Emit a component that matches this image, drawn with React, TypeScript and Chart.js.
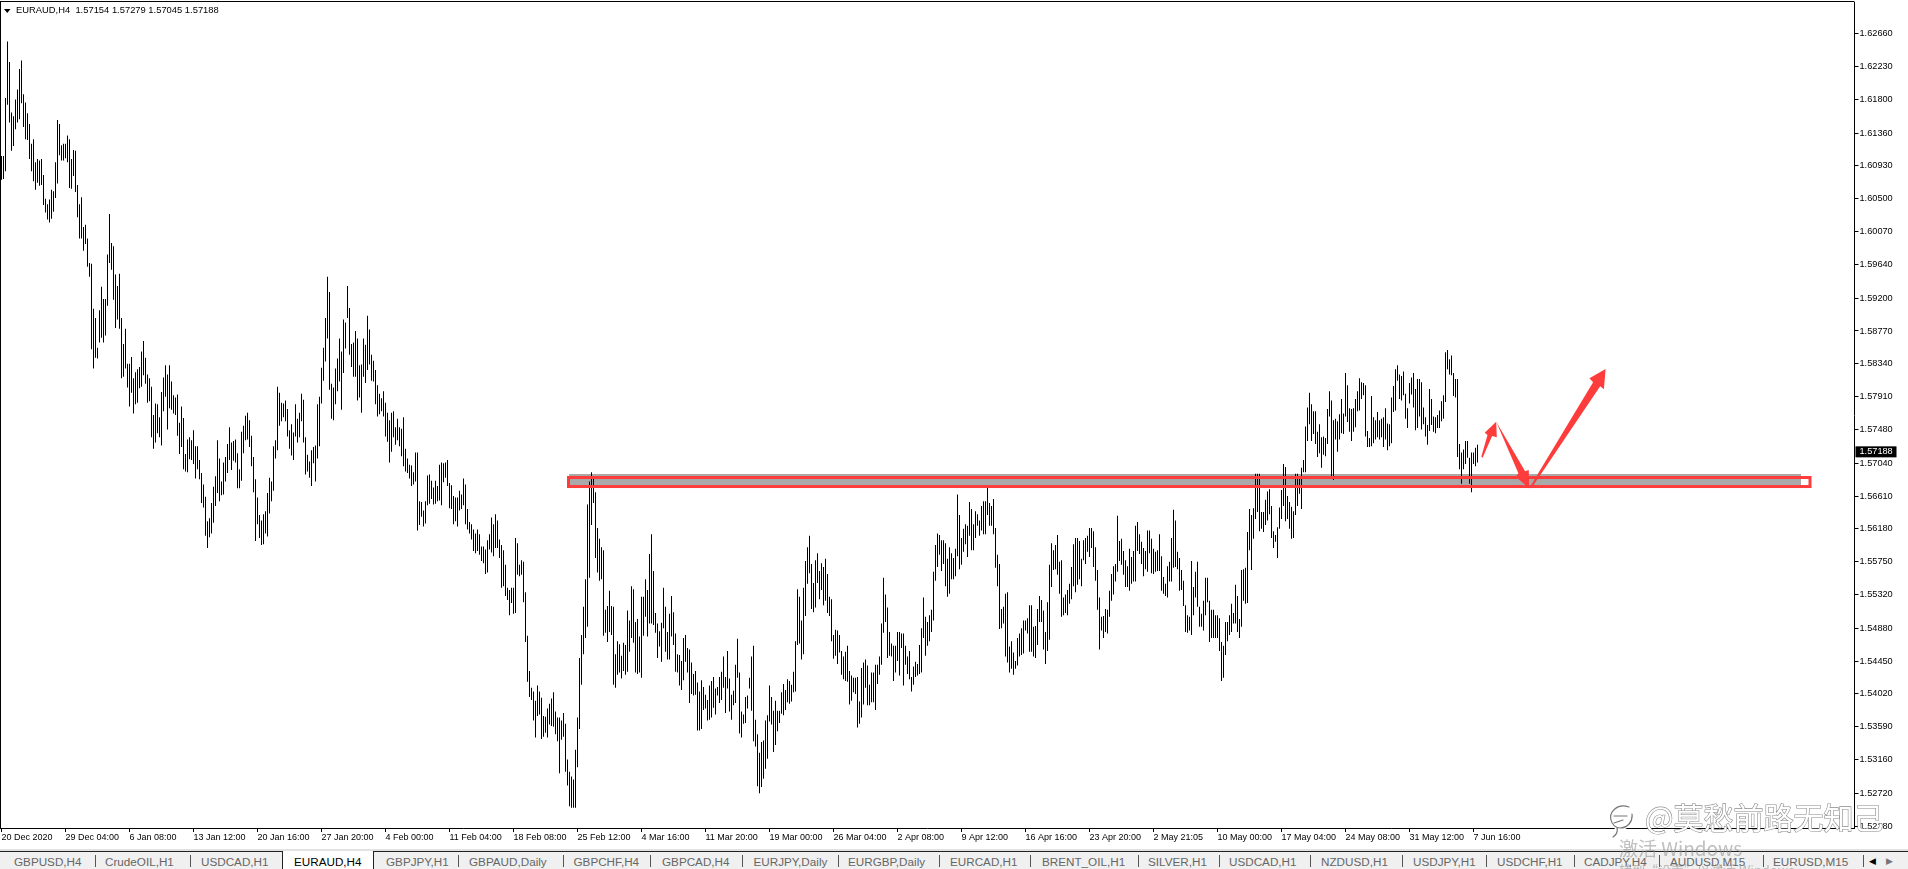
import React, { useEffect, useRef } from "react";
import { Chart, registerables } from "chart.js";

Chart.register(...registerables);

const FONT = '"Liberation Sans", Arial, sans-serif';

// Bar highs / lows of EURAUD H4
const highsA = [
1.6106,1.6106,1.6182,1.6256,1.6229,1.6163,1.6158,1.6180,1.6193,1.6220,
1.6231,1.6187,1.6176,1.6162,1.6148,1.6122,1.6128,1.6098,1.6102,1.6100,
1.6102,1.6081,1.6050,1.6043,1.6049,1.6062,1.6060,1.6098,1.6153,1.6148,
1.6120,1.6122,1.6122,1.6133,1.6128,1.6102,1.6114,1.6113,1.6068,1.6043,
1.6052,1.6013,1.6016,1.5998,1.5966,1.5965,1.5906,1.5894,1.5855,1.5904,
1.5935,1.5919,1.5919,1.5977,1.6030,1.5992,1.5988,1.5951,1.5936,1.5952,
1.5894,1.5860,1.5880,1.5834,1.5834,1.5843,1.5815,1.5823,1.5827,1.5830,
1.5850,1.5864,1.5842,1.5820,1.5815,1.5804,1.5767,1.5782,1.5781,1.5764,
1.5797,1.5816,1.5832,1.5820,1.5832,1.5811,1.5793,1.5790,1.5794,1.5757,
1.5778,1.5763,1.5716,1.5735,1.5738,1.5734,1.5747,1.5726,1.5726,1.5708,
1.5691,1.5676,1.5660,1.5628,1.5632,1.5652,1.5673,1.5687,1.5734,1.5710,
1.5680,1.5705,1.5712,1.5729,1.5751,1.5731,1.5733,1.5735,1.5717,1.5696];
const lowsA = [
1.6075,1.6076,1.6086,1.6173,1.6150,1.6113,1.6119,1.6141,1.6150,1.6154,
1.6175,1.6144,1.6128,1.6127,1.6102,1.6086,1.6073,1.6062,1.6071,1.6067,
1.6068,1.6042,1.6032,1.6023,1.6019,1.6024,1.6033,1.6051,1.6070,1.6107,
1.6100,1.6100,1.6103,1.6098,1.6064,1.6063,1.6080,1.6059,1.6026,1.5998,
1.5998,1.5982,1.5991,1.5961,1.5948,1.5853,1.5828,1.5842,1.5841,1.5862,
1.5868,1.5862,1.5871,1.5910,1.5966,1.5957,1.5918,1.5881,1.5892,1.5880,
1.5815,1.5817,1.5828,1.5803,1.5778,1.5796,1.5769,1.5781,1.5783,1.5802,
1.5804,1.5819,1.5808,1.5783,1.5785,1.5738,1.5723,1.5731,1.5743,1.5738,
1.5727,1.5772,1.5791,1.5748,1.5776,1.5774,1.5769,1.5767,1.5740,1.5716,
1.5725,1.5696,1.5693,1.5692,1.5709,1.5708,1.5703,1.5684,1.5696,1.5683,
1.5652,1.5646,1.5609,1.5593,1.5607,1.5612,1.5626,1.5648,1.5665,1.5654,
1.5662,1.5663,1.5680,1.5691,1.5708,1.5695,1.5707,1.5705,1.5671,1.5671];

const highsB = [
1.5745,1.5753,1.5766,1.5770,1.5760,1.5740,1.5712,1.5683,1.5659,1.5636,
1.5629,1.5637,1.5641,1.5665,1.5685,1.5680,1.5726,1.5734,1.5804,1.5796,
1.5783,1.5782,1.5786,1.5775,1.5747,1.5755,1.5744,1.5781,1.5762,1.5770,
1.5795,1.5787,1.5738,1.5715,1.5706,1.5721,1.5725,1.5727,1.5781,1.5791,
1.5829,1.5855,1.5894,1.5948,1.5928,1.5808,1.5803,1.5828,1.5841,1.5867,
1.5850,1.5892,1.5888,1.5936,1.5907,1.5860,1.5862,1.5877,1.5867,1.5832,
1.5833,1.5867,1.5859,1.5897,1.5879,1.5846,1.5838,1.5826,1.5806,1.5795,
1.5789,1.5798,1.5783,1.5770,1.5760,1.5770,1.5772,1.5751,1.5762,1.5751,
1.5749,1.5764,1.5723,1.5710,1.5702,1.5701,1.5692,1.5718,1.5718,1.5654,
1.5653,1.5642,1.5654,1.5688,1.5689,1.5681,1.5672,1.5681,1.5674,1.5702,
1.5705,1.5704,1.5705,1.5708,1.5678,1.5675,1.5661,1.5659,1.5659,1.5668,
1.5663,1.5684,1.5676,1.5644,1.5627,1.5624,1.5617,1.5612,1.5617,1.5611,
1.5595,1.5595,1.5591,1.5603,1.5611,1.5633,1.5624,1.5637,1.5629,1.5604];
const lowsB = [
1.5681,1.5717,1.5734,1.5735,1.5725,1.5700,1.5666,1.5602,1.5624,1.5606,
1.5597,1.5598,1.5612,1.5608,1.5638,1.5654,1.5668,1.5710,1.5721,1.5753,
1.5759,1.5764,1.5759,1.5739,1.5723,1.5714,1.5708,1.5739,1.5731,1.5738,
1.5759,1.5731,1.5689,1.5693,1.5685,1.5674,1.5704,1.5680,1.5710,1.5726,
1.5782,1.5812,1.5837,1.5867,1.5800,1.5762,1.5760,1.5781,1.5798,1.5811,
1.5774,1.5822,1.5854,1.5894,1.5846,1.5830,1.5817,1.5817,1.5786,1.5790,
1.5770,1.5817,1.5809,1.5826,1.5833,1.5812,1.5811,1.5781,1.5765,1.5768,
1.5772,1.5765,1.5739,1.5732,1.5705,1.5719,1.5738,1.5728,1.5734,1.5726,
1.5713,1.5700,1.5693,1.5691,1.5684,1.5674,1.5676,1.5680,1.5616,1.5623,
1.5634,1.5621,1.5625,1.5649,1.5651,1.5657,1.5650,1.5651,1.5654,1.5655,
1.5649,1.5679,1.5685,1.5674,1.5645,1.5644,1.5624,1.5628,1.5621,1.5642,
1.5644,1.5649,1.5624,1.5617,1.5612,1.5604,1.5589,1.5586,1.5589,1.5584,
1.5576,1.5573,1.5559,1.5561,1.5591,1.5587,1.5582,1.5593,1.5593,1.5580];

const highsC = [
1.5597,1.5590,1.5571,1.5541,1.5538,1.5541,1.5541,1.5606,1.5599,1.5571,
1.5577,1.5575,1.5535,1.5478,1.5432,1.5410,1.5405,1.5393,1.5413,1.5405,
1.5397,1.5373,1.5372,1.5383,1.5389,1.5396,1.5404,1.5379,1.5371,1.5371,
1.5367,1.5377,1.5363,1.5316,1.5300,1.5294,1.5290,1.5329,1.5371,1.5449,
1.5479,1.5516,1.5552,1.5650,1.5680,1.5692,1.5684,1.5666,1.5619,1.5605,
1.5594,1.5590,1.5512,1.5517,1.5537,1.5517,1.5516,1.5454,1.5471,1.5467,
1.5452,1.5469,1.5466,1.5511,1.5498,1.5543,1.5539,1.5496,1.5500,1.5477,
1.5529,1.5529,1.5552,1.5538,1.5585,1.5611,1.5563,1.5508,1.5494,1.5484,
1.5495,1.5541,1.5516,1.5483,1.5507,1.5530,1.5509,1.5481,1.5454,1.5453,
1.5445,1.5475,1.5479,1.5462,1.5460,1.5443,1.5428,1.5432,1.5417,1.5405,
1.5420,1.5411,1.5401,1.5394,1.5413,1.5419,1.5424,1.5409,1.5411,1.5424,
1.5431,1.5451,1.5424,1.5458,1.5422,1.5401,1.5406,1.5440,1.5474,1.5430,
1.5379,1.5375,1.5398,1.5400,1.5423,1.5451,1.5465,1.5368,1.5349,1.5325];
const lowsC = [
1.5541,1.5543,1.5530,1.5525,1.5505,1.5521,1.5507,1.5508,1.5558,1.5556,
1.5558,1.5522,1.5470,1.5418,1.5398,1.5394,1.5367,1.5345,1.5373,1.5375,
1.5343,1.5346,1.5351,1.5345,1.5362,1.5360,1.5359,1.5349,1.5340,1.5298,
1.5342,1.5346,1.5300,1.5282,1.5255,1.5253,1.5253,1.5253,1.5306,1.5356,
1.5414,1.5454,1.5475,1.5490,1.5554,1.5623,1.5652,1.5580,1.5561,1.5550,
1.5552,1.5478,1.5482,1.5470,1.5483,1.5479,1.5414,1.5410,1.5427,1.5430,
1.5422,1.5432,1.5427,1.5431,1.5457,1.5475,1.5469,1.5430,1.5428,1.5430,
1.5423,1.5478,1.5503,1.5477,1.5494,1.5494,1.5492,1.5482,1.5449,1.5464,
1.5444,1.5488,1.5457,1.5447,1.5447,1.5477,1.5466,1.5431,1.5430,1.5413,
1.5407,1.5420,1.5444,1.5430,1.5390,1.5402,1.5400,1.5401,1.5354,1.5354,
1.5356,1.5381,1.5383,1.5367,1.5368,1.5371,1.5384,1.5375,1.5400,1.5390,
1.5394,1.5410,1.5377,1.5409,1.5379,1.5368,1.5387,1.5390,1.5423,1.5350,
1.5345,1.5363,1.5364,1.5383,1.5409,1.5380,1.5340,1.5333,1.5281,1.5272];

const highsD = [
1.5339,1.5341,1.5367,1.5374,1.5413,1.5398,1.5380,1.5393,1.5380,1.5380,
1.5404,1.5415,1.5407,1.5421,1.5419,1.5414,1.5431,1.5471,1.5539,1.5529,
1.5498,1.5541,1.5576,1.5594,1.5609,1.5572,1.5547,1.5577,1.5586,1.5563,
1.5573,1.5568,1.5579,1.5559,1.5529,1.5526,1.5479,1.5486,1.5485,1.5479,
1.5458,1.5451,1.5457,1.5465,1.5432,1.5426,1.5423,1.5423,1.5424,1.5392,
1.5436,1.5443,1.5447,1.5439,1.5414,1.5430,1.5430,1.5440,1.5440,1.5451,
1.5494,1.5554,1.5532,1.5515,1.5483,1.5468,1.5465,1.5465,1.5483,1.5483,
1.5481,1.5481,1.5465,1.5451,1.5458,1.5424,1.5438,1.5444,1.5441,1.5466,
1.5488,1.5528,1.5503,1.5496,1.5505,1.5512,1.5562,1.5597,1.5612,1.5610,
1.5603,1.5603,1.5599,1.5579,1.5594,1.5586,1.5580,1.5592,1.5663,1.5636,
1.5606,1.5618,1.5624,1.5622,1.5653,1.5644,1.5624,1.5641,1.5637,1.5629,
1.5648,1.5654,1.5654,1.5674,1.5652,1.5648,1.5657,1.5619,1.5584,1.5572,
1.5513,1.5516,1.5533,1.5535,1.5464,1.5471,1.5456,1.5445,1.5475,1.5481];
const lowsD = [
1.5280,1.5291,1.5304,1.5317,1.5366,1.5362,1.5326,1.5335,1.5353,1.5364,
1.5376,1.5374,1.5381,1.5391,1.5389,1.5392,1.5404,1.5405,1.5466,1.5468,
1.5447,1.5454,1.5504,1.5546,1.5560,1.5513,1.5509,1.5515,1.5547,1.5526,
1.5538,1.5518,1.5524,1.5508,1.5504,1.5471,1.5448,1.5452,1.5441,1.5456,
1.5427,1.5421,1.5419,1.5418,1.5388,1.5393,1.5404,1.5402,1.5358,1.5363,
1.5371,1.5388,1.5410,1.5387,1.5387,1.5391,1.5391,1.5381,1.5415,1.5427,
1.5440,1.5482,1.5496,1.5449,1.5452,1.5451,1.5419,1.5430,1.5445,1.5426,
1.5462,1.5413,1.5440,1.5428,1.5421,1.5405,1.5414,1.5424,1.5426,1.5428,
1.5430,1.5475,1.5452,1.5465,1.5471,1.5483,1.5498,1.5550,1.5568,1.5584,
1.5563,1.5572,1.5543,1.5529,1.5533,1.5552,1.5552,1.5556,1.5582,1.5565,
1.5571,1.5588,1.5598,1.5581,1.5609,1.5590,1.5590,1.5606,1.5622,1.5609,
1.5616,1.5611,1.5611,1.5636,1.5622,1.5622,1.5611,1.5567,1.5543,1.5487,
1.5488,1.5494,1.5451,1.5443,1.5430,1.5435,1.5427,1.5435,1.5439,1.5451];

const highsE = [
1.5488,1.5498,1.5498,1.5501,1.5518,1.5518,1.5490,1.5491,1.5513,1.5530,
1.5525,1.5511,1.5483,1.5522,1.5571,1.5599,1.5590,1.5597,1.5610,1.5575,
1.5577,1.5528,1.5532,1.5538,1.5546,1.5568,1.5598,1.5606,1.5606,1.5602,
1.5579,1.5603,1.5606,1.5609,1.5619,1.5619,1.5615,1.5594,1.5564,1.5528,
1.5503,1.5504,1.5513,1.5512,1.5537,1.5559,1.5569,1.5572,1.5635,1.5602,
1.5605,1.5589,1.5577,1.5569,1.5592,1.5581,1.5589,1.5622,1.5627,1.5611,
1.5601,1.5593,1.5589,1.5616,1.5616,1.5605,1.5592,1.5588,1.5590,1.5611,
1.5582,1.5555,1.5546,1.5569,1.5575,1.5606,1.5643,1.5629,1.5588,1.5580,
1.5564,1.5550,1.5518,1.5505,1.5503,1.5576,1.5542,1.5562,1.5575,1.5516,
1.5507,1.5524,1.5554,1.5554,1.5524,1.5512,1.5512,1.5505,1.5505,1.5501,
1.5470,1.5465,1.5496,1.5496,1.5505,1.5520,1.5508,1.5545,1.5530,1.5500,
1.5564,1.5565,1.5567,1.5614,1.5644,1.5636,1.5645,1.5690,1.5690,1.5690,
1.5640,1.5640,1.5656,1.5667,1.5670];
const lowsE = [
1.5453,1.5455,1.5485,1.5481,1.5457,1.5457,1.5451,1.5449,1.5466,1.5496,
1.5496,1.5460,1.5441,1.5458,1.5473,1.5542,1.5564,1.5565,1.5558,1.5533,
1.5503,1.5505,1.5508,1.5505,1.5520,1.5526,1.5543,1.5535,1.5545,1.5552,
1.5543,1.5577,1.5572,1.5588,1.5581,1.5593,1.5568,1.5550,1.5512,1.5460,
1.5485,1.5475,1.5483,1.5481,1.5503,1.5524,1.5532,1.5549,1.5562,1.5576,
1.5571,1.5558,1.5542,1.5542,1.5537,1.5546,1.5549,1.5549,1.5589,1.5585,
1.5572,1.5556,1.5565,1.5562,1.5586,1.5560,1.5559,1.5562,1.5563,1.5563,
1.5537,1.5533,1.5530,1.5528,1.5549,1.5549,1.5567,1.5568,1.5565,1.5537,
1.5538,1.5517,1.5483,1.5482,1.5485,1.5479,1.5505,1.5528,1.5516,1.5490,
1.5490,1.5485,1.5505,1.5522,1.5470,1.5475,1.5475,1.5475,1.5475,1.5458,
1.5419,1.5423,1.5453,1.5471,1.5479,1.5483,1.5494,1.5494,1.5483,1.5475,
1.5490,1.5524,1.5520,1.5521,1.5590,1.5564,1.5605,1.5631,1.5640,1.5615,
1.5618,1.5614,1.5623,1.5629,1.5637];

const highsF = [
1.5648,1.5615,1.5610,1.5620,1.5646,1.5669,1.5703,1.5699,1.5661,1.5653,
1.5647,1.5641,1.5690,1.5690,1.5687,1.5698,1.5708,1.5752,1.5777,1.5796,
1.5781,1.5772,1.5772,1.5745,1.5755,1.5738,1.5739,1.5737,1.5775,1.5798,
1.5786,1.5760,1.5762,1.5759,1.5768,1.5788,1.5769,1.5822,1.5806,1.5776,
1.5775,1.5776,1.5788,1.5798,1.5815,1.5810,1.5809,1.5806,1.5746,1.5737,
1.5792,1.5764,1.5760,1.5771,1.5760,1.5762,1.5764,1.5776,1.5756,1.5755,
1.5790,1.5805,1.5827,1.5832,1.5820,1.5818,1.5824,1.5795,1.5776,1.5809,
1.5816,1.5822,1.5801,1.5814,1.5814,1.5810,1.5777,1.5764,1.5754,1.5801,
1.5788,1.5765,1.5764,1.5767,1.5773,1.5785,1.5793,1.5849,1.5852,1.5840,
1.5845,1.5822,1.5814,1.5814,1.5729,1.5718,1.5722,1.5733,1.5733,1.5711,
1.5718,1.5718,1.5724,1.5728];
const lowsF = [
1.5606,1.5593,1.5601,1.5580,1.5618,1.5631,1.5648,1.5628,1.5631,1.5618,
1.5605,1.5606,1.5636,1.5648,1.5664,1.5644,1.5692,1.5692,1.5733,1.5755,
1.5733,1.5742,1.5729,1.5712,1.5717,1.5698,1.5715,1.5713,1.5729,1.5765,
1.5687,1.5682,1.5735,1.5719,1.5735,1.5743,1.5742,1.5765,1.5758,1.5745,
1.5733,1.5745,1.5751,1.5772,1.5773,1.5788,1.5793,1.5739,1.5725,1.5725,
1.5726,1.5730,1.5735,1.5738,1.5735,1.5738,1.5725,1.5735,1.5721,1.5726,
1.5730,1.5771,1.5773,1.5812,1.5788,1.5786,1.5793,1.5762,1.5750,1.5782,
1.5794,1.5777,1.5747,1.5750,1.5765,1.5748,1.5755,1.5739,1.5728,1.5746,
1.5754,1.5745,1.5743,1.5750,1.5750,1.5759,1.5762,1.5784,1.5827,1.5820,
1.5819,1.5792,1.5790,1.5712,1.5696,1.5677,1.5696,1.5703,1.5711,1.5677,
1.5666,1.5703,1.5700,1.5705];

const highs = [...highsA, ...highsB, ...highsC, ...highsD, ...highsE, ...highsF];
const lows = [...lowsA, ...lowsB, ...lowsC, ...lowsD, ...lowsE, ...lowsF];

const dateLabels = [
  "20 Dec 2020", "29 Dec 04:00", "6 Jan 08:00", "13 Jan 12:00", "20 Jan 16:00", "27 Jan 20:00",
  "4 Feb 00:00", "11 Feb 04:00", "18 Feb 08:00", "25 Feb 12:00", "4 Mar 16:00", "11 Mar 20:00",
  "19 Mar 00:00", "26 Mar 04:00", "2 Apr 08:00", "9 Apr 12:00", "16 Apr 16:00", "23 Apr 20:00",
  "2 May 21:05", "10 May 00:00", "17 May 04:00", "24 May 08:00", "31 May 12:00", "7 Jun 16:00",
];
const BARS_PER_DATE = 32;
const TOTAL_SLOTS = 927;

const priceTicks = [
  1.6266, 1.6223, 1.618, 1.6136, 1.6093, 1.605, 1.6007, 1.5964, 1.592, 1.5877, 1.5834, 1.5791,
  1.5748, 1.5704, 1.5661, 1.5618, 1.5575, 1.5532, 1.5488, 1.5445, 1.5402, 1.5359, 1.5316, 1.5272, 1.5228,
];
const PRICE_MIN = 1.522645;
const PRICE_MAX = 1.63076;

const ohlc = { symbol: "EURAUD,H4", open: "1.57154", high: "1.57279", low: "1.57045", close: 1.57188 };

// Drawn annotations, as [bar index, price]
const zoneFillBars = [283.75, 899.75];
const zoneFillPrices = [1.56898, 1.56741];
const zoneFrameBars = [283.5, 904.25];
const zoneFramePrices = [1.56852, 1.56734];
const arrowUpSmall = [[739.9, 1.57124], [743, 1.57408], [741.6, 1.57439], [747.35, 1.57583], [747.65, 1.57378], [745.3, 1.57395], [740.55, 1.5711]];
const arrowDown = [[747.35, 1.57583], [758.45, 1.56907], [757.1, 1.56863], [763.85, 1.56711], [763.65, 1.5695], [761.8, 1.56933]];
const arrowUpLarge = [[763.85, 1.56711], [795.8, 1.58098], [793.95, 1.58151], [802.05, 1.58272], [801.2, 1.58007], [799.35, 1.58046], [765.35, 1.56728]];

const tabNames = [
  "GBPUSD,H4", "CrudeOIL,H1", "USDCAD,H1", "EURAUD,H4", "GBPJPY,H1", "GBPAUD,Daily", "GBPCHF,H4",
  "GBPCAD,H4", "EURJPY,Daily", "EURGBP,Daily", "EURCAD,H1", "BRENT_OIL,H1", "SILVER,H1", "USDCAD,H1",
  "NZDUSD,H1", "USDJPY,H1", "USDCHF,H1", "CADJPY,H4", "AUDUSD,M15", "EURUSD,M15",
];
const activeTab = 3;
const tabTextLefts = [14, 105, 201, 294, 386, 469, 573.5, 662, 753.5, 848, 950, 1042, 1148, 1229, 1321, 1413, 1497, 1584, 1670, 1773];
const tabSeparators = [94.7, 190, 458, 562.5, 650, 742, 838, 939, 1030, 1138, 1219, 1310, 1402, 1486, 1574, 1659, 1763, 1863];

const annotations = {
  id: "annotations",
  beforeDatasetsDraw(chart: any) {
    const { ctx, scales } = chart;
    const x = scales.x, y = scales.y;
    ctx.save();
    ctx.fillStyle = "#a9a9a9";
    const x0 = x.getPixelForValue(zoneFillBars[0]);
    const x1 = x.getPixelForValue(zoneFillBars[1]);
    const y0 = y.getPixelForValue(zoneFillPrices[0]);
    const y1 = y.getPixelForValue(zoneFillPrices[1]);
    ctx.fillRect(x0, y0, x1 - x0, y1 - y0);
    ctx.restore();
  },
  afterDatasetsDraw(chart: any) {
    const { ctx, scales, chartArea } = chart;
    const x = scales.x, y = scales.y;
    ctx.save();
    // zone frame
    ctx.strokeStyle = "#ff3c3c";
    ctx.lineWidth = 3;
    const fx0 = x.getPixelForValue(zoneFrameBars[0]);
    const fx1 = x.getPixelForValue(zoneFrameBars[1]);
    const fy0 = y.getPixelForValue(zoneFramePrices[0]);
    const fy1 = y.getPixelForValue(zoneFramePrices[1]);
    ctx.strokeRect(fx0, fy0, fx1 - fx0, fy1 - fy0);
    // arrows
    ctx.fillStyle = "#ff3c3c";
    for (const arrow of [arrowUpSmall, arrowDown, arrowUpLarge]) {
      ctx.beginPath();
      arrow.forEach(([b, p], i) => {
        const px = x.getPixelForValue(b);
        const py = y.getPixelForValue(p);
        if (i === 0) ctx.moveTo(px, py);
        else ctx.lineTo(px, py);
      });
      ctx.closePath();
      ctx.fill();
    }
    // frame lines
    ctx.fillStyle = "#000";
    ctx.fillRect(0, 1, chartArea.right, 1);
    ctx.fillRect(0, 1, 1, chartArea.bottom);
    // header
    ctx.beginPath();
    ctx.moveTo(4, 9);
    ctx.lineTo(10.5, 9);
    ctx.lineTo(7.25, 13);
    ctx.closePath();
    ctx.fill();
    ctx.font = `9.4px ${FONT}`;
    ctx.textBaseline = "middle";
    ctx.textAlign = "left";
    ctx.fillText(`${ohlc.symbol}  ${ohlc.open} ${ohlc.high} ${ohlc.low} ${ohlc.close.toFixed(5)}`, 16, 10);
    // last price tag
    const tagY = y.getPixelForValue(ohlc.close);
    ctx.fillStyle = "#000";
    ctx.fillRect(chartArea.right + 1, tagY - 5.5, 41, 11);
    ctx.fillStyle = "#fff";
    ctx.font = `9.2px ${FONT}`;
    ctx.fillText(ohlc.close.toFixed(5), chartArea.right + 5, tagY);
    ctx.restore();
  },
};

export default function App() {
  const ref = useRef<HTMLCanvasElement | null>(null);

  useEffect(() => {
    document.body.style.margin = "0";
    document.body.style.overflow = "hidden";
    const labels = Array.from({ length: TOTAL_SLOTS }, (_, i) =>
      i % BARS_PER_DATE === 0 ? dateLabels[i / BARS_PER_DATE] ?? "" : ""
    );
    const chart = new Chart(ref.current as HTMLCanvasElement, {
      type: "bar",
      data: {
        labels,
        datasets: [
          {
            data: highs.map((h, i) => [lows[i], h]) as any,
            backgroundColor: "#000",
            borderWidth: 0,
            barThickness: 1,
            inflateAmount: 0,
            borderSkipped: false,
          } as any,
        ],
      },
      options: {
        animation: false,
        responsive: false,
        devicePixelRatio: 1,
        layout: { padding: { left: 0.5, right: 0, top: 2, bottom: 0 } },
        plugins: { legend: { display: false }, tooltip: { enabled: false }, title: { display: false } },
        scales: {
          x: {
            type: "category",
            offset: true,
            afterFit(s: any) {
              s.height = 41;
              s.paddingLeft = 0;
              s.paddingRight = 0;
            },
            afterBuildTicks(s: any) {
              s.ticks = s.ticks.filter(
                (t: any) => t.value % BARS_PER_DATE === 0 && t.value / BARS_PER_DATE < dateLabels.length
              );
            },
            grid: { display: true, offset: false, drawOnChartArea: false, drawTicks: true, tickLength: 4, tickColor: "#000", tickWidth: 1 },
            border: { display: true, color: "#000", width: 1 },
            ticks: {
              autoSkip: false,
              maxRotation: 0,
              minRotation: 0,
              align: "start",
              padding: 0,
              color: "#000",
              font: { family: FONT, size: 9 },
            },
          } as any,
          y: {
            type: "linear",
            position: "right",
            min: PRICE_MIN,
            max: PRICE_MAX,
            afterFit(s: any) {
              s.width = 53.5;
              s.paddingTop = 0;
              s.paddingBottom = 0;
            },
            afterBuildTicks(s: any) { s.ticks = priceTicks.map((value) => ({ value })); },
            grid: { display: true, drawOnChartArea: false, drawTicks: true, tickLength: 4, tickColor: "#000", tickWidth: 1 },
            border: { display: true, color: "#000", width: 1 },
            ticks: {
              padding: 1,
              color: "#000",
              font: { family: FONT, size: 9.2 },
              callback: (v: any) => Number(v).toFixed(5),
            },
          } as any,
        },
      },
      plugins: [annotations],
    });
    return () => chart.destroy();
  }, []);

  return (
    <div style={{ position: "relative", width: 1908, height: 869, overflow: "hidden", background: "#fff" }}>
      <canvas ref={ref} width={1908} height={869} style={{ position: "absolute", left: 0, top: 0, width: 1908, height: 869, display: "block" }} />
      {/* tab strip */}
      <div style={{ position: "absolute", left: 0, top: 849, width: 1908, height: 20, background: "#f0f0f0", fontFamily: FONT, fontSize: 11.7 }}>
        <div style={{ position: "absolute", left: 0, top: 0, width: 1908, height: 2, background: "#e2e2e2" }} />
        <div style={{ position: "absolute", left: 0, top: 2, width: 1908, height: 1, background: "#222" }} />
        <div style={{ position: "absolute", left: 282, top: 2, width: 92, height: 18, background: "#fff", borderLeft: "1px solid #222", borderRight: "1px solid #222", boxSizing: "border-box" }} />
        {tabSeparators.map((x) => (
          <div key={x} style={{ position: "absolute", left: x, top: 6, width: 1, height: 12, background: "#555" }} />
        ))}
        {tabNames.map((name, i) => (
          <span key={i} style={{ position: "absolute", left: tabTextLefts[i], top: 5, lineHeight: "15px", whiteSpace: "nowrap", color: i === activeTab ? "#000" : "#666" }}>
            {name}
          </span>
        ))}
        <span style={{ position: "absolute", left: 1869, top: 5, fontSize: 9, lineHeight: "15px", color: "#000", fontFamily: '"DejaVu Sans"' }}>◀</span>
        <span style={{ position: "absolute", left: 1886, top: 5, fontSize: 9, lineHeight: "15px", color: "#777", fontFamily: '"DejaVu Sans"' }}>▶</span>
      </div>
      {/* screenshot overlays */}
      <svg width={28} height={34} style={{ position: "absolute", left: 1607, top: 804 }} viewBox="0 0 28 34">
        <path d="M22 3 C10 -1 2 8 4 16 C5 21 9 24 13 24 C20 24 26 18 25 10 M7 12 L20 12 M7 19 L16 16 M10 24 C11 28 9 31 6 33" fill="none" stroke="#fff" strokeWidth={4} strokeLinecap="round" />
        <path d="M22 3 C10 -1 2 8 4 16 C5 21 9 24 13 24 C20 24 26 18 25 10 M7 12 L20 12 M7 19 L16 16 M10 24 C11 28 9 31 6 33" fill="none" stroke="#777" strokeWidth={1.2} strokeLinecap="round" />
      </svg>
      <div style={{ position: "absolute", left: 1645, top: 797, fontFamily: '"Noto Sans CJK SC"', fontSize: 30, lineHeight: "38px", whiteSpace: "nowrap", color: "#fff", WebkitTextStroke: "1.2px #8c8c8c", paintOrder: "stroke fill" } as any}>
        @莫愁前路无知己
      </div>
      <div style={{ position: "absolute", left: 1619, top: 836, fontFamily: '"Noto Sans CJK SC"', fontSize: 19, lineHeight: "24px", whiteSpace: "nowrap", color: "rgba(140,140,140,0.55)" }}>
        激活 Windows
      </div>
      <div style={{ position: "absolute", left: 1619, top: 862, fontFamily: '"Noto Sans CJK SC"', fontSize: 13, lineHeight: "16px", whiteSpace: "nowrap", color: "rgba(140,140,140,0.55)" }}>
        转到“设置”以激活 Windows。
      </div>
    </div>
  );
}
